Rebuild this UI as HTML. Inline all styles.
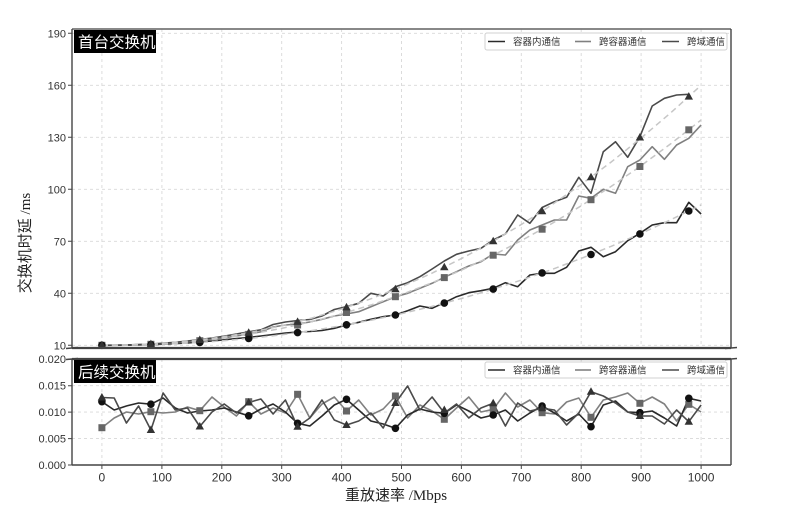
<!DOCTYPE html>
<html><head><meta charset="utf-8"><style>
html,body{margin:0;padding:0;background:#fff;}
svg{display:block;}
text{font-family:"Liberation Sans","Noto Sans CJK SC",sans-serif;}
</style></head><body>
<svg width="791" height="520" viewBox="0 0 791 520" xmlns="http://www.w3.org/2000/svg">
<rect width="791" height="520" fill="#fff"/>
<!-- grids -->
<g stroke="#d8d8d8" stroke-width="0.9" stroke-dasharray="3,3" fill="none">
<path d="M101.9 29V348M161.9 29V348M221.8 29V348M281.7 29V348M341.6 29V348M401.5 29V348M461.4 29V348M521.3 29V348M581.2 29V348M641.1 29V348M701.1 29V348"/>
<path d="M72 345.3H731M72 293.3H731M72 241.3H731M72 189.3H731M72 137.3H731M72 85.3H731M72 33.3H731"/>
<path d="M101.9 359V465M161.9 359V465M221.8 359V465M281.7 359V465M341.6 359V465M401.5 359V465M461.4 359V465M521.3 359V465M581.2 359V465M641.1 359V465M701.1 359V465"/>
<path d="M72 438.6H731M72 412.1H731M72 385.7H731"/>
</g>
<!-- top solid lines -->
<g fill="none" stroke-width="1.6" stroke-linejoin="round">
<polyline stroke="#2a2a2a" points="101.9,345.3 114.2,345.3 126.4,345.2 138.6,345.0 150.9,344.7 163.1,344.2 175.3,343.6 187.5,342.9 199.8,342.0 212.0,341.0 224.2,339.8 236.4,338.5 248.7,337.5 260.9,336.0 273.1,334.5 285.4,333.0 297.6,332.0 309.8,331.5 322.0,330.5 334.3,328.3 346.5,325.0 358.7,322.3 370.9,319.3 383.2,316.7 395.4,315.0 407.6,310.7 419.9,306.0 432.1,308.3 444.3,302.7 456.5,296.7 468.8,292.7 481.0,290.7 493.2,288.3 505.4,282.7 517.7,286.7 529.9,275.0 542.1,273.3 554.4,273.3 566.6,267.3 578.8,251.0 591.0,247.3 603.3,256.7 615.5,251.7 627.7,240.7 639.9,233.3 652.2,225.0 664.4,222.7 676.6,222.7 688.8,202.3 701.1,214.0"/>
<polyline stroke="#808080" points="101.9,345.3 114.2,345.2 126.4,345.0 138.6,344.7 150.9,344.3 163.1,343.6 175.3,342.8 187.5,341.8 199.8,340.6 212.0,339.3 224.2,337.8 236.4,336.0 248.7,334.0 260.9,331.8 273.1,327.0 285.4,325.0 297.6,324.0 309.8,322.0 322.0,319.3 334.3,316.0 346.5,314.0 358.7,311.7 370.9,306.7 383.2,301.7 395.4,296.7 407.6,293.3 419.9,288.3 432.1,283.3 444.3,277.3 456.5,271.7 468.8,266.0 481.0,261.7 493.2,254.0 505.4,255.0 517.7,240.0 529.9,230.0 542.1,225.0 554.4,220.0 566.6,220.0 578.8,196.0 591.0,198.3 603.3,189.3 615.5,193.3 627.7,166.7 639.9,160.0 652.2,146.7 664.4,159.3 676.6,145.0 688.8,138.3 701.1,125.0"/>
<polyline stroke="#4a4a4a" points="101.9,345.3 114.2,345.2 126.4,345.0 138.6,344.6 150.9,344.1 163.1,343.2 175.3,342.3 187.5,341.0 199.8,339.5 212.0,338.0 224.2,336.2 236.4,334.0 248.7,331.8 260.9,329.8 273.1,324.5 285.4,322.0 297.6,320.5 309.8,319.5 322.0,316.0 334.3,309.5 346.5,306.7 358.7,303.3 370.9,293.3 383.2,296.0 395.4,286.7 407.6,282.7 419.9,276.7 432.1,269.0 444.3,261.0 456.5,254.3 468.8,251.0 481.0,248.3 493.2,240.0 505.4,234.0 517.7,215.0 529.9,223.3 542.1,207.5 554.4,201.7 566.6,197.3 578.8,177.3 591.0,193.3 603.3,151.7 615.5,141.7 627.7,157.3 639.9,136.7 652.2,106.0 664.4,98.3 676.6,95.0 688.8,94.3"/>
</g>
<!-- fit dashed -->
<g fill="none" stroke="#c6c6c6" stroke-width="1.5" stroke-dasharray="6,4">
<polyline points="101.9,345.3 131.9,344.9 161.9,343.5 191.8,340.9 221.8,337.1 251.7,332.1 281.7,325.8 311.6,318.1 341.6,309.0 371.5,298.6 401.5,286.7 431.5,273.4 461.4,258.6 491.4,242.3 521.3,224.5 551.3,205.2 581.2,184.4 611.2,162.0 641.1,138.0 671.1,112.5 701.1,85.3"/>
<polyline points="101.9,345.3 131.9,344.9 161.9,343.7 191.8,341.5 221.8,338.2 251.7,333.9 281.7,328.4 311.6,321.7 341.6,313.9 371.5,304.8 401.5,294.5 431.5,283.0 461.4,270.2 491.4,256.1 521.3,240.7 551.3,223.9 581.2,205.8 611.2,186.4 641.1,165.7 671.1,143.5 701.1,120.0"/>
<polyline points="101.9,345.3 131.9,345.1 161.9,344.3 191.8,342.9 221.8,340.9 251.7,338.2 281.7,334.8 311.6,330.6 341.6,325.7 371.5,320.1 401.5,313.7 431.5,306.5 461.4,298.5 491.4,289.7 521.3,280.1 551.3,269.7 581.2,258.4 611.2,246.3 641.1,233.4 671.1,219.6 701.1,204.9"/>
</g>
<!-- top markers -->
<g fill="#666">
<rect x="98.4" y="341.8" width="7" height="7"/><rect x="147.4" y="340.8" width="7" height="7"/><rect x="196.3" y="337.2" width="7" height="7"/><rect x="245.2" y="330.9" width="7" height="7"/><rect x="294.1" y="321.5" width="7" height="7"/><rect x="343" y="309" width="7" height="7"/><rect x="391.9" y="293.2" width="7" height="7"/><rect x="440.8" y="274.1" width="7" height="7"/><rect x="489.7" y="251.7" width="7" height="7"/><rect x="538.6" y="225.7" width="7" height="7"/><rect x="587.5" y="196.2" width="7" height="7"/><rect x="636.4" y="163" width="7" height="7"/><rect x="685.3" y="126.3" width="7" height="7"/>
</g>
<g fill="#111">
<circle cx="101.9" cy="345.3" r="3.8"/><circle cx="150.9" cy="344.7" r="3.8"/><circle cx="199.8" cy="342.4" r="3.8"/><circle cx="248.7" cy="338.5" r="3.8"/><circle cx="297.6" cy="332.6" r="3.8"/><circle cx="346.5" cy="324.8" r="3.8"/><circle cx="395.4" cy="315.0" r="3.8"/><circle cx="444.3" cy="303.1" r="3.8"/><circle cx="493.2" cy="289.1" r="3.8"/><circle cx="542.1" cy="272.9" r="3.8"/><circle cx="591.0" cy="254.5" r="3.8"/><circle cx="639.9" cy="233.9" r="3.8"/><circle cx="688.8" cy="211.0" r="3.8"/>
</g>
<g fill="#333">
<path d="M101.9 340.8l4.2 7.5h-8.4zM150.9 339.6l4.2 7.5h-8.4zM199.8 335.5l4.2 7.5h-8.4zM248.7 328.2l4.2 7.5h-8.4zM297.6 317.4l4.2 7.5h-8.4zM346.5 302.9l4.2 7.5h-8.4zM395.4 284.8l4.2 7.5h-8.4zM444.3 262.7l4.2 7.5h-8.4zM493.2 236.8l4.2 7.5h-8.4zM542.1 206.8l4.2 7.5h-8.4zM591.0 172.7l4.2 7.5h-8.4zM639.9 133l4.2 7.5h-8.4zM688.8 92.1l4.2 7.5h-8.4z"/>
</g>
<!-- bottom lines -->
<g fill="none" stroke-width="1.6" stroke-linejoin="round">
<polyline stroke="#808080" points="101.9,427.7 114.2,418 126.4,412 138.6,414 150.9,411.7 163.1,413 175.3,412 187.5,407 199.8,410.7 212.0,397 224.2,407 236.4,416 248.7,401.7 260.9,414 273.1,408 285.4,413 297.6,394.3 309.8,418 322.0,404 334.3,397 346.5,411 358.7,400 370.9,415 383.2,409 395.4,396 407.6,418 419.9,405 432.1,411 444.3,419.3 456.5,408 468.8,397 481.0,412 493.2,409.3 505.4,393 517.7,407 529.9,400 542.1,412.7 554.4,414 566.6,402 578.8,398 591.0,417.3 603.3,400 615.5,397 627.7,393 639.9,403.3 652.2,397 664.4,404 676.6,421 688.8,404.3 701.1,412"/>
<polyline stroke="#2a2a2a" points="101.9,401.7 114.2,410 126.4,406 138.6,403 150.9,404.2 163.1,398 175.3,408 187.5,413 199.8,411 212.0,410 224.2,408 236.4,412 248.7,415.8 260.9,409 273.1,404 285.4,412 297.6,423.3 309.8,426 322.0,416 334.3,405 346.5,399.3 358.7,410 370.9,421 383.2,424 395.4,428.3 407.6,415 419.9,409 432.1,412 444.3,413.3 456.5,405 468.8,411 481.0,418 493.2,415 505.4,410 517.7,421 529.9,413 542.1,406 554.4,413 566.6,421 578.8,414 591.0,426.7 603.3,405 615.5,401 627.7,412 639.9,412.7 652.2,411 664.4,418 676.6,426 688.8,398.3 701.1,401"/>
<polyline stroke="#4a4a4a" points="101.9,397.5 114.2,398 126.4,423 138.6,406 150.9,430 163.1,393 175.3,410 187.5,408 199.8,426.5 212.0,412 224.2,404 236.4,413 248.7,402.5 260.9,399 273.1,414 285.4,400 297.6,426.7 309.8,418 322.0,400 334.3,420 346.5,425 358.7,421 370.9,413 383.2,428 395.4,403 407.6,386 419.9,410 432.1,397 444.3,413 456.5,404 468.8,418 481.0,408 493.2,403.3 505.4,426 517.7,403 529.9,411 542.1,408.3 554.4,410 566.6,425 578.8,413 591.0,391.7 603.3,396 615.5,403 627.7,412 639.9,416 652.2,416 664.4,424 676.6,410 688.8,421.7 701.1,405"/>
</g>
<!-- bottom markers -->
<g fill="#666">
<rect x="98.4" y="424.2" width="7" height="7"/><rect x="147.4" y="408.2" width="7" height="7"/><rect x="196.3" y="407.2" width="7" height="7"/><rect x="245.2" y="398.2" width="7" height="7"/><rect x="294.1" y="390.8" width="7" height="7"/><rect x="343" y="407.5" width="7" height="7"/><rect x="391.9" y="392.5" width="7" height="7"/><rect x="440.8" y="415.8" width="7" height="7"/><rect x="489.7" y="405.8" width="7" height="7"/><rect x="538.6" y="409.2" width="7" height="7"/><rect x="587.5" y="413.8" width="7" height="7"/><rect x="636.4" y="399.8" width="7" height="7"/><rect x="685.3" y="400.8" width="7" height="7"/>
</g>
<g fill="#111">
<circle cx="101.9" cy="401.7" r="3.8"/><circle cx="150.9" cy="404.2" r="3.8"/><circle cx="248.7" cy="415.8" r="3.8"/><circle cx="297.6" cy="423.3" r="3.8"/><circle cx="346.5" cy="399.3" r="3.8"/><circle cx="395.4" cy="428.3" r="3.8"/><circle cx="444.3" cy="413.3" r="3.8"/><circle cx="493.2" cy="415" r="3.8"/><circle cx="542.1" cy="406" r="3.8"/><circle cx="591.0" cy="426.7" r="3.8"/><circle cx="639.9" cy="412.7" r="3.8"/><circle cx="688.8" cy="398.3" r="3.8"/>
</g>
<g fill="#333">
<path d="M101.9 393l4.2 7.5h-8.4zM150.9 425.5l4.2 7.5h-8.4zM199.8 422l4.2 7.5h-8.4zM248.7 398l4.2 7.5h-8.4zM297.6 422.2l4.2 7.5h-8.4zM346.5 420.5l4.2 7.5h-8.4zM395.4 398.5l4.2 7.5h-8.4zM444.3 405.5l4.2 7.5h-8.4zM493.2 398.8l4.2 7.5h-8.4zM542.1 403.8l4.2 7.5h-8.4zM591.0 387.2l4.2 7.5h-8.4zM639.9 411.5l4.2 7.5h-8.4zM688.8 417.2l4.2 7.5h-8.4z"/>
</g>
<!-- spines -->
<g fill="none" stroke="#444">
<path d="M72 29H731" stroke="#777" stroke-width="1.8"/>
<path d="M72 29V348M731 29V348" stroke-width="1.4"/>
<path d="M72 348H731" stroke-width="2.2"/>
<path d="M72 359H731" stroke-width="2.2"/>
<path d="M72 359V465M731 359V465" stroke-width="1.4"/>
<path d="M72 465H731" stroke-width="1.6"/>
<path d="M66 348.5L78 347.5M725 348.5L737 347.5M66 359.5L78 358.5M725 359.5L737 358.5" stroke-width="1.4"/>
</g>
<!-- ticks -->
<g stroke="#444" stroke-width="1">
<path d="M68 345.3H72M68 293.3H72M68 241.3H72M68 189.3H72M68 137.3H72M68 85.3H72M68 33.3H72"/>
<path d="M68 465H72M68 438.6H72M68 412.1H72M68 385.7H72M68 359.2H72"/>
<path d="M101.9 465V469M161.9 465V469M221.8 465V469M281.7 465V469M341.6 465V469M401.5 465V469M461.4 465V469M521.3 465V469M581.2 465V469M641.1 465V469M701.1 465V469"/>
</g>
<g font-size="11" fill="#333" text-anchor="end">
<text x="66" y="349.3">10</text><text x="66" y="297.3">40</text><text x="66" y="245.3">70</text><text x="66" y="193.3">100</text><text x="66" y="141.3">130</text><text x="66" y="89.3">160</text><text x="66" y="37.3">190</text>
<text x="66" y="469">0.000</text><text x="66" y="442.6">0.005</text><text x="66" y="416.1">0.010</text><text x="66" y="389.7">0.015</text><text x="66" y="363.2">0.020</text>
</g>
<g font-size="12" fill="#333" text-anchor="middle">
<text x="101.9" y="481.5">0</text><text x="161.9" y="481.5">100</text><text x="221.8" y="481.5">200</text><text x="281.7" y="481.5">300</text><text x="341.6" y="481.5">400</text><text x="401.5" y="481.5">500</text><text x="461.4" y="481.5">600</text><text x="521.3" y="481.5">700</text><text x="581.2" y="481.5">800</text><text x="641.1" y="481.5">900</text><text x="701.1" y="481.5">1000</text>
</g>
<!-- axis labels -->
<text x="396" y="500" font-size="15" fill="#222" text-anchor="middle" style="font-family:'Liberation Serif','Noto Sans CJK SC',serif">重放速率 /Mbps</text>
<text transform="translate(30,243) rotate(-90)" font-size="15" fill="#222" text-anchor="middle" style="font-family:'Liberation Serif','Noto Sans CJK SC',serif">交换机时延 /ms</text>
<!-- panel labels -->
<rect x="74" y="30" width="82" height="23" fill="#000"/>
<text x="78" y="47.5" font-size="15.5" fill="#fff">首台交换机</text>
<rect x="74" y="360" width="82" height="23" fill="#000"/>
<text x="78" y="377.5" font-size="15.5" fill="#fff">后续交换机</text>
<!-- legends -->
<g>
<rect x="485" y="33" width="242" height="17" rx="2" fill="#fff" stroke="#d0d0d0" stroke-width="1"/>
<path d="M488 41.5H505" stroke="#2a2a2a" stroke-width="1.6"/>
<path d="M575 41.5H591" stroke="#808080" stroke-width="1.6"/>
<path d="M662 41.5H679" stroke="#4a4a4a" stroke-width="1.6"/>
<g font-size="9.5" fill="#333"><text x="513" y="45">容器内通信</text><text x="599" y="45">跨容器通信</text><text x="687" y="45">跨域通信</text></g>
<rect x="485" y="362" width="242" height="16" rx="2" fill="#fff" stroke="#d0d0d0" stroke-width="1"/>
<path d="M488 370H505" stroke="#2a2a2a" stroke-width="1.6"/>
<path d="M575 370H591" stroke="#808080" stroke-width="1.6"/>
<path d="M662 370H679" stroke="#4a4a4a" stroke-width="1.6"/>
<g font-size="9.5" fill="#333"><text x="513" y="373.5">容器内通信</text><text x="599" y="373.5">跨容器通信</text><text x="687" y="373.5">跨域通信</text></g>
</g>
</svg>
</body></html>
